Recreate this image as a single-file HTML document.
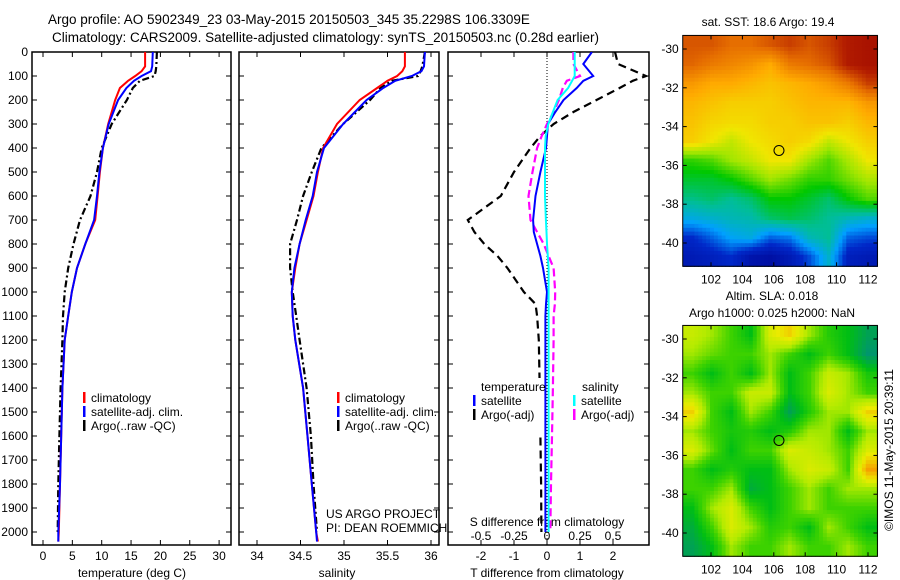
<!DOCTYPE html>
<html><head><meta charset="utf-8"><style>
html,body{margin:0;padding:0;background:#fff;}
svg{display:block;font-family:"Liberation Sans",sans-serif;}
</style></head><body>
<svg id="c" width="900" height="580" viewBox="0 0 900 580"></svg>
<script>
// ---------- data ----------
const depths = [0,60,80,100,120,150,200,300,400,500,600,700,800,900,1000,1100,1200,1400,1600,1800,2000,2040];
const tempClim = [17.4,17.4,16.8,15.7,14.5,13.1,12.3,11.1,10.2,9.7,9.3,8.9,7.2,5.8,4.9,4.3,3.7,3.3,3.1,2.9,2.7,2.6];
const tempSat = [18.7,18.6,18.4,16.8,15.5,14.2,12.8,11.2,10.2,9.6,9.2,8.7,7.2,5.8,4.9,4.3,3.7,3.3,3.1,2.9,2.6,2.6];
const tempArgo = [19.4,19.3,19.2,19.0,16.5,15.3,14.3,11.7,10.0,9.2,8.1,6.3,5.2,4.3,3.7,3.4,3.3,3.0,2.8,2.6,2.5,null];
const salClim = [35.70,35.70,35.67,35.61,35.50,35.38,35.18,34.92,34.76,34.70,34.65,34.57,34.49,34.44,34.40,34.41,34.44,34.53,34.58,34.63,34.68,34.70];
const salSat = [35.93,35.92,35.89,35.78,35.59,35.45,35.26,34.99,34.77,34.69,34.64,34.56,34.49,34.43,34.40,34.41,34.44,34.53,34.58,34.63,34.68,34.69];
const salArgo = [35.93,35.90,35.88,35.85,35.55,35.42,35.30,34.99,34.74,34.63,34.53,34.46,34.38,34.38,34.41,34.45,34.49,34.57,34.62,34.65,34.69,null];
const diffDepths = [0,50,100,120,150,200,250,300,350,400,500,600,700,750,800,850,900,1000,1050,1100,1200,1400,1600,1800,2000];
const dTSat = [1.36,1.1,1.4,1.1,0.9,0.5,0.25,0.03,0.0,-0.03,-0.2,-0.35,-0.42,-0.4,-0.3,-0.2,-0.12,0.0,-0.03,-0.05,-0.05,-0.05,-0.05,-0.05,-0.05];
const dTArgo = [2.06,2.15,3.0,2.6,2.2,1.5,0.8,0.2,-0.2,-0.5,-1.0,-1.4,-2.4,-2.2,-1.9,-1.5,-1.2,-0.7,-0.35,-0.3,-0.25,-0.22,-0.2,-0.18,-0.17];
const dSSat = [0.21,0.21,0.21,0.19,0.16,0.08,0.045,0.01,-0.01,-0.015,-0.015,-0.015,-0.008,-0.004,0.0,0.006,0.012,0.012,0.012,0.012,0.012,0.012,0.012,0.012,0.012];
const dSArgo = [0.2,0.2,0.25,0.15,0.12,0.09,0.05,0.0,-0.04,-0.075,-0.11,-0.14,-0.125,-0.075,-0.025,0.012,0.05,0.062,0.06,0.05,0.05,0.045,0.038,0.03,0.025];
const tempTicks = [0,5,10,15,20,25,30];
const salTicks = [34,34.5,35,35.5,36];
const dTTicks = [-2,-1,0,1,2];
const dSTicks = [-0.5,-0.25,0,0.25,0.5];
const depthTicks = [0,100,200,300,400,500,600,700,800,900,1000,1100,1200,1300,1400,1500,1600,1700,1800,1900,2000];
const lonTicks = [102,104,106,108,110,112];
const latTicks = [-30,-32,-34,-36,-38,-40];
const sstGrid = [
[0.85,0.85,0.82,0.82,0.85,0.88,0.85,0.88,0.93,0.95],
[0.83,0.80,0.78,0.76,0.72,0.80,0.82,0.85,0.93,0.95],
[0.75,0.72,0.72,0.70,0.68,0.70,0.72,0.75,0.80,0.88],
[0.70,0.68,0.66,0.66,0.66,0.68,0.70,0.70,0.70,0.75],
[0.68,0.65,0.64,0.64,0.66,0.66,0.68,0.68,0.66,0.70],
[0.66,0.62,0.58,0.62,0.64,0.66,0.64,0.58,0.62,0.66],
[0.48,0.50,0.55,0.58,0.62,0.62,0.55,0.50,0.56,0.62],
[0.42,0.42,0.45,0.50,0.55,0.52,0.48,0.48,0.52,0.56],
[0.36,0.38,0.35,0.38,0.45,0.45,0.42,0.38,0.45,0.50],
[0.28,0.30,0.32,0.33,0.38,0.40,0.38,0.35,0.32,0.30],
[0.15,0.20,0.26,0.28,0.20,0.22,0.32,0.35,0.20,0.18],
[0.10,0.12,0.15,0.08,0.06,0.10,0.18,0.30,0.12,0.10]];
const slaGrid = [
[0.58,0.55,0.50,0.45,0.60,0.65,0.55,0.48,0.45,0.40],
[0.55,0.52,0.50,0.50,0.55,0.50,0.45,0.50,0.45,0.38],
[0.50,0.45,0.50,0.45,0.55,0.45,0.50,0.58,0.55,0.47],
[0.55,0.50,0.50,0.58,0.58,0.45,0.50,0.60,0.55,0.50],
[0.65,0.50,0.45,0.55,0.50,0.40,0.48,0.55,0.55,0.65],
[0.55,0.50,0.47,0.48,0.45,0.48,0.55,0.55,0.45,0.55],
[0.60,0.52,0.45,0.50,0.50,0.60,0.58,0.55,0.50,0.60],
[0.50,0.45,0.48,0.45,0.45,0.55,0.60,0.58,0.50,0.70],
[0.50,0.50,0.55,0.42,0.45,0.50,0.55,0.50,0.55,0.55],
[0.45,0.55,0.60,0.50,0.45,0.50,0.55,0.50,0.50,0.50],
[0.42,0.50,0.60,0.55,0.48,0.50,0.45,0.55,0.50,0.45],
[0.40,0.45,0.55,0.50,0.50,0.55,0.50,0.50,0.55,0.50]];
const floatLon = 106.33, floatLat = -35.23;

// ---------- helpers ----------
const svg = document.getElementById('c');
const NS = 'http://www.w3.org/2000/svg';
function el(tag, attrs, parent){const e=document.createElementNS(NS,tag);for(const k in attrs)e.setAttribute(k,attrs[k]);(parent||svg).appendChild(e);return e;}
function txt(x,y,s,anchor,size,parent){const t=el('text',{x:x,y:y,'text-anchor':anchor||'start','font-size':size||12,fill:'#000'},parent);t.textContent=s;return t;}

const yTop=52, pxPerM=0.24;
const yD = d => yTop + d*pxPerM;
const P1={l:32,r:231}, P2={l:239,r:439}, P3={l:448,r:649}, PB=545;
const xT = v => 43 + v*5.87;
const xS = v => 257 + (v-34)*87;
const xdT = v => 547 + v*33;
const xdS = v => 547 + v*132;

function frame(p,name){
  const g=el('g',{});
  
  
  el('rect',{x:p.l,y:yTop,width:p.r-p.l,height:PB-yTop,fill:'none',stroke:'#000','stroke-width':1.5},g);
  depthTicks.forEach(d=>{
    el('line',{x1:p.l,x2:p.l+5,y1:yD(d),y2:yD(d),stroke:'#000'},g);
    el('line',{x1:p.r-5,x2:p.r,y1:yD(d),y2:yD(d),stroke:'#000'},g);
  });
  return g;
}
function profile(xs,xf,ds,color,dash,w,name,clip){
  let pts=[];
  for(let i=0;i<ds.length;i++){ if(xs[i]===null) continue; pts.push(xf(xs[i]).toFixed(1)+','+yD(ds[i]).toFixed(1)); }
  const p=el('polyline',{points:pts.join(' '),fill:'none',stroke:color,'stroke-width':w||2,'stroke-dasharray':dash||'none','clip-path':clip||'none'});
  
  
  return p;
}
const defs=el('defs',{});
[['c1',P1],['c2',P2],['c3',P3]].forEach(([id,p])=>{const cp=el('clipPath',{id:id},defs);el('rect',{x:p.l,y:yTop,width:p.r-p.l,height:PB-yTop},cp);});

let t=txt(48,24,'Argo profile: AO 5902349_23 03-May-2015 20150503_345 35.2298S 106.3309E','start',13.5);

t=txt(52,42,'Climatology: CARS2009. Satellite-adjusted climatology: synTS_20150503.nc (0.28d earlier)','start',13.5);


// ---------- panel 1 ----------
frame(P1,'temperature-panel');
depthTicks.forEach(d=>{const l=txt(28,yD(d)+4,String(d),'end',12);});
tempTicks.forEach(v=>{el('line',{x1:xT(v),x2:xT(v),y1:PB-5,y2:PB,stroke:'#000'});el('line',{x1:xT(v),x2:xT(v),y1:yTop,y2:yTop+5,stroke:'#000'});const l=txt(xT(v),560,String(v),'middle',12);});
t=txt(132,577,'temperature (deg C)','middle',12);
profile(tempArgo,xT,depths,'#000','7,3,2,3',2.2,'temperature-argo-line','url(#c1)');
profile(tempClim,xT,depths,'#f00','none',2,'temperature-climatology-line','url(#c1)');
profile(tempSat,xT,depths,'#00f','none',2,'temperature-satellite-line','url(#c1)');
function legend(x,y,color,label,name){const g=el('g',{});el('rect',{x:x,y:y-10,width:2.5,height:11,fill:color},g);txt(x+8,y,label,'start',12,g);}
legend(83,402,'#f00','climatology','legend-climatology');
legend(83,416,'#00f','satellite-adj. clim.','legend-satellite-adj');
legend(83,430,'#000','Argo(..raw -QC)','legend-argo');

// ---------- panel 2 ----------
frame(P2,'salinity-panel');
salTicks.forEach(v=>{el('line',{x1:xS(v),x2:xS(v),y1:PB-5,y2:PB,stroke:'#000'});el('line',{x1:xS(v),x2:xS(v),y1:yTop,y2:yTop+5,stroke:'#000'});const l=txt(xS(v),560,String(v),'middle',12);});
t=txt(337,577,'salinity','middle',12);
profile(salArgo,xS,depths,'#000','7,3,2,3',2.2,'salinity-argo-line','url(#c2)');
profile(salClim,xS,depths,'#f00','none',2,'salinity-climatology-line','url(#c2)');
profile(salSat,xS,depths,'#00f','none',2,'salinity-satellite-line','url(#c2)');
legend(337,402,'#f00','climatology','legend-climatology-2');
legend(337,416,'#00f','satellite-adj. clim.','legend-satellite-adj-2');
legend(337,430,'#000','Argo(..raw -QC)','legend-argo-2');
t=txt(326,518,'US ARGO PROJECT','start',12);
t=txt(326,532,'PI: DEAN ROEMMICH','start',12);

// ---------- panel 3 ----------
frame(P3,'difference-panel');
el('line',{x1:xdT(0),x2:xdT(0),y1:yTop,y2:PB,stroke:'#000','stroke-dasharray':'1,2'});
dTTicks.forEach(v=>{el('line',{x1:xdT(v),x2:xdT(v),y1:PB-5,y2:PB,stroke:'#000'});el('line',{x1:xdT(v),x2:xdT(v),y1:yTop,y2:yTop+5,stroke:'#000'});const l=txt(xdT(v),560,String(v),'middle',12);});
dSTicks.forEach(v=>{const l=txt(xdS(v),540,String(v),'middle',12);});
t=txt(547,526,'S difference from climatology','middle',12);
t=txt(547,577,'T difference from climatology','middle',12);
profile(dTArgo,xdT,diffDepths,'#000','8,5',2.2,'t-diff-argo-line','url(#c3)');
profile(dSArgo,xdS,diffDepths,'#f0f','8,4',2.2,'s-diff-argo-line','url(#c3)');
profile(dTSat,xdT,diffDepths,'#00f','none',2,'t-diff-satellite-line','url(#c3)');
profile(dSSat,xdS,diffDepths,'#0ff','none',2,'s-diff-satellite-line','url(#c3)');
el('rect',{x:480,y:378,width:63,height:58,fill:'#fff'});
el('rect',{x:580,y:378,width:60,height:58,fill:'#fff'});
t=txt(481,391,'temperature','start',12);
legend(473,405,'#00f','satellite','legend-t-satellite');
legend(473,419,'#000','Argo(-adj)','legend-t-argo');
t=txt(582,391,'salinity','start',12);
legend(573,405,'#0ff','satellite','legend-s-satellite');
legend(573,419,'#f0f','Argo(-adj)','legend-s-argo');

// ---------- maps ----------
const sstStops=[[0,[0,0,140]],[0.15,[0,40,200]],[0.25,[0,160,255]],[0.35,[0,190,150]],[0.45,[0,200,0]],[0.55,[160,230,0]],[0.62,[240,230,0]],[0.72,[255,170,0]],[0.82,[230,110,0]],[0.92,[180,30,0]],[1,[150,0,0]]];
const slaStops=[[0.38,[0,150,110]],[0.45,[0,190,20]],[0.5,[60,210,0]],[0.56,[180,235,0]],[0.62,[235,235,0]],[0.7,[245,160,0]]];
function cmap(stops,v){if(v<=stops[0][0])return stops[0][1];for(let i=1;i<stops.length;i++){if(v<=stops[i][0]){const a=stops[i-1],b=stops[i];const f=(v-a[0])/(b[0]-a[0]);return a[1].map((c,k)=>Math.round(c+(b[1][k]-c)*f));}}return stops[stops.length-1][1];}
function drawMap(M,grid,stops,name){
  const lonL=100.2,lonR=112.6,latT=-29.3,latB=-41.2;
  const xL=lon=>711+(lon-102)*15.7;
  const yL=lat=>M.y30+(-30-lat)*19.4;
  const g=el('g',{});
  
  
  const rows=grid.length, cols=grid[0].length, sub=5;
  const x0=xL(lonL),x1=xL(lonR),y0=yL(latT),y1=yL(latB);
  const cw=(x1-x0)/(cols*sub), ch=(y1-y0)/(rows*sub);
  for(let r=0;r<rows*sub;r++){for(let c=0;c<cols*sub;c++){
    const fr=Math.min(Math.max((r+0.5)/sub-0.5,0),rows-1), fc=Math.min(Math.max((c+0.5)/sub-0.5,0),cols-1);
    const r0=Math.floor(fr),c0=Math.floor(fc),r1=Math.min(r0+1,rows-1),c1=Math.min(c0+1,cols-1),a=fr-r0,b=fc-c0;
    const v=grid[r0][c0]*(1-a)*(1-b)+grid[r0][c1]*(1-a)*b+grid[r1][c0]*a*(1-b)+grid[r1][c1]*a*b;
    const col=cmap(stops,v);
    const cell=el('rect',{x:(x0+c*cw).toFixed(2),y:(y0+r*ch).toFixed(2),width:(cw+0.6).toFixed(2),height:(ch+0.6).toFixed(2),fill:'rgb('+col.join(',')+')'},g);
    
    
  }}
  el('rect',{x:x0,y:y0,width:x1-x0,height:y1-y0,fill:'none',stroke:'#000','stroke-width':1},g);
  lonTicks.forEach(v=>{el('line',{x1:xL(v),x2:xL(v),y1:y0,y2:y0+4,stroke:'#000'},g);el('line',{x1:xL(v),x2:xL(v),y1:y1-4,y2:y1,stroke:'#000'},g);txt(xL(v),y1+17,String(v),'middle',12,g);});
  latTicks.forEach(v=>{el('line',{x1:x0,x2:x0+4,y1:yL(v),y2:yL(v),stroke:'#000'},g);el('line',{x1:x1-4,x2:x1,y1:yL(v),y2:yL(v),stroke:'#000'},g);txt(x0-4,yL(v)+4,String(v),'end',12,g);});
  const m=el('circle',{cx:xL(floatLon),cy:yL(floatLat),r:5,fill:'none',stroke:'#000','stroke-width':1},g);
  
  
}
drawMap({y30:49},sstGrid,sstStops,'sst-map');
drawMap({y30:339},slaGrid,slaStops,'sla-map');
t=txt(768,26,'sat. SST: 18.6 Argo: 19.4','middle',12);
t=txt(772,300,'Altim. SLA: 0.018','middle',12);
t=txt(772,317,'Argo h1000: 0.025 h2000: NaN','middle',12);
t=el('text',{x:0,y:0,'text-anchor':'middle','font-size':12,fill:'#000',transform:'translate(893,450) rotate(-90)'});
t.textContent='©IMOS 11-May-2015 20:39:11';

</script>
</body></html>
